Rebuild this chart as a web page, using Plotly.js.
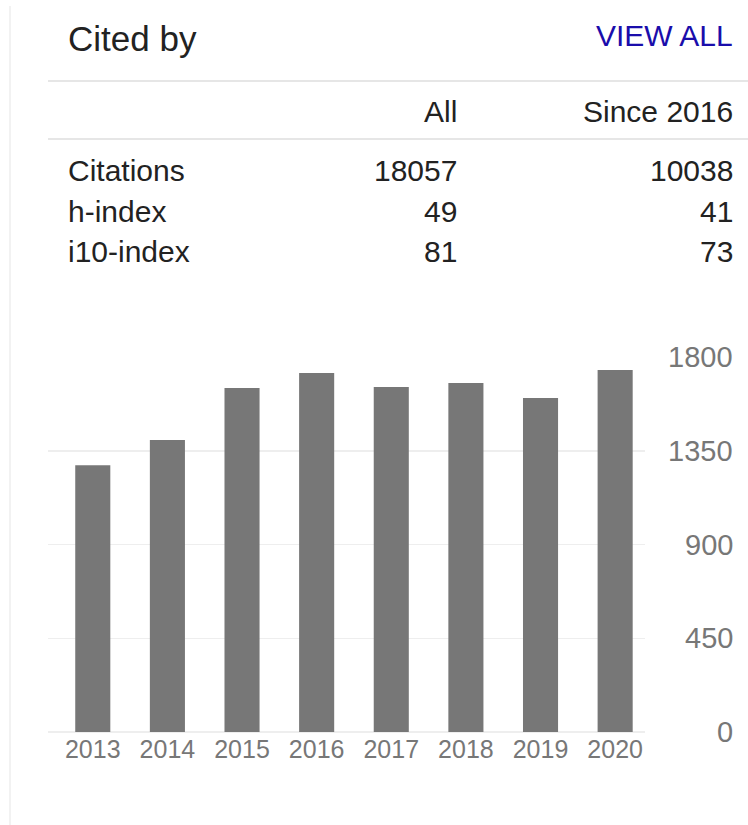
<!DOCTYPE html>
<html>
<head>
<meta charset="utf-8">
<script src="https://cdn.plot.ly/plotly-3.0.1.min.js"></script>
<style>
  html, body { margin: 0; padding: 0; background: #fff; }
  #chart { width: 748px; height: 825px; }
</style>
</head>
<body>
<div id="chart"></div>
<script>
// ---- data ----
const years = ['2013', '2014', '2015', '2016', '2017', '2018', '2019', '2020'];
const citationsPerYear = [1280, 1402, 1651, 1723, 1656, 1675, 1603, 1738];
const yTickValues = [0, 450, 900, 1350, 1800];
const columnHeaders = ['All', 'Since 2016'];
const rowLabels = ['Citations', 'h-index', 'i10-index'];
const allValues = [18057, 49, 81];
const sinceValues = [10038, 41, 73];
const titleText = 'Cited by';
const linkText = 'VIEW ALL';

// ---- layout helpers ----
const W = 748, H = 825;
const M = { l: 48, r: 103, t: 357, b: 93 };
const PW = W - M.l - M.r, PH = H - M.t - M.b;
const FONT = 'Arial, "Liberation Sans", sans-serif';
const px = x => (x - M.l) / PW;
const py = y => (H - M.b - y) / PH;

function ann(text, x, y, anchor, size, color) {
  return {
    text: String(text), xref: 'paper', yref: 'paper',
    x: px(x), y: py(y), xanchor: anchor, yanchor: 'middle',
    showarrow: false, font: { family: FONT, size: size, color: color }
  };
}

const annotations = [];
annotations.push(ann(titleText, 66, 38, 'left', 35, '#222'));
annotations.push(ann(linkText, 735, 36, 'right', 30, '#1a0dab'));
annotations.push(ann(columnHeaders[0], 459, 111, 'right', 30, '#222'));
annotations.push(ann(columnHeaders[1], 735, 111, 'right', 30, '#222'));
const rowY = [170, 211, 251];
rowLabels.forEach((lab, i) => {
  annotations.push(ann(lab, 66, rowY[i], 'left', 30, '#222'));
  annotations.push(ann(allValues[i], 459, rowY[i], 'right', 30, '#222'));
  annotations.push(ann(sinceValues[i], 735, rowY[i], 'right', 30, '#222'));
});
yTickValues.forEach(v => {
  annotations.push({
    text: String(v), xref: 'paper', yref: 'y', x: px(735), y: v,
    xanchor: 'right', yanchor: 'middle', showarrow: false,
    font: { family: FONT, size: 29, color: '#777' }
  });
});

const shapes = [
  { type: 'line', xref: 'paper', yref: 'paper', x0: px(10), x1: px(10), y0: py(6), y1: py(H),
    line: { color: '#eeeeee', width: 1.5 } },
  { type: 'line', xref: 'paper', yref: 'paper', x0: px(48), x1: px(W), y0: py(81), y1: py(81),
    line: { color: '#e6e6e6', width: 2 } },
  { type: 'line', xref: 'paper', yref: 'paper', x0: px(48), x1: px(W), y0: py(139), y1: py(139),
    line: { color: '#e6e6e6', width: 2 } }
];

const trace = {
  type: 'bar', x: years, y: citationsPerYear,
  marker: { color: '#777777' }, hoverinfo: 'skip'
};

const layout = {
  width: W, height: H, margin: M,
  paper_bgcolor: '#fff', plot_bgcolor: '#fff',
  showlegend: false, bargap: 0.53,
  font: { family: FONT, color: '#777' },
  xaxis: {
    type: 'category', range: [-0.6, 7.4], fixedrange: true,
    showgrid: false, zeroline: false, showline: false, ticks: '',
    tickfont: { family: FONT, size: 25, color: '#777' }
  },
  yaxis: {
    range: [0, 1800], tickvals: yTickValues, showticklabels: false,
    showgrid: true, gridcolor: '#eeeeee', gridwidth: 1.5,
    zeroline: true, zerolinecolor: '#eeeeee', zerolinewidth: 2,
    ticks: '', fixedrange: true
  },
  annotations: annotations,
  shapes: shapes
};

Plotly.newPlot('chart', [trace], layout, { staticPlot: true, displayModeBar: false });
</script>
</body>
</html>
